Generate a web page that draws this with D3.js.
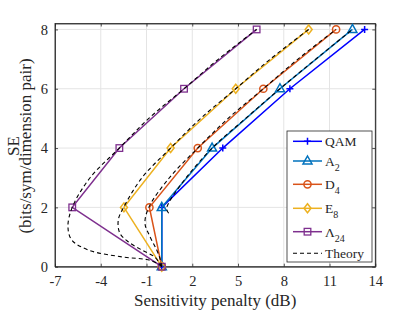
<html lang="en">
  <head>
    <meta charset="UTF-8" />
    <title>SE vs sensitivity penalty</title>
    <script src="https://d3js.org/d3.v7.min.js"></script>
    <style>
      * {
        margin: 0;
        padding: 0;
      }
      body {
        background: white;
      }
      text {
        font-family: "Liberation Serif", "Times New Roman", serif;
        fill: #262626;
      }
    </style>
  </head>
  <body>
    <svg id="chart" width="415" height="312"></svg>
    <script>
      // the values
      const seLevels = [0, 2, 4, 6, 8];
      const qam = [0, 0, 4.0, 8.4, 13.3];
      const a2 = [0, 0, 3.3, 7.75, 12.5];
      const d4 = [0, -0.81, 2.36, 6.66, 11.43];
      const e8 = [0, -2.48, 0.58, 4.85, 9.63];
      const l24 = [0, -5.87, -2.78, 1.46, 6.22];

      // theory curves (dashed), x = penalty, y = SE
      const thA2x = [0.45, 0.32, 0.45, 1.6, 3.3, 5.5, 7.75, 10.1, 12.5];
      const thA2se = [1.8, 1.95, 2.15, 3, 4, 5, 6, 7, 8];
      const thD4x = [0, -0.1, -0.33, -0.77, -1.1, -0.85, 0.5, 2.36, 4.35, 6.66, 8.93, 11.43];
      const thD4se = [0, 0.25, 0.56, 1.01, 1.46, 2, 3, 4, 5, 6, 7, 8];
      const thE8x = [0, -0.45, -1.3, -2.2, -2.75, -2.85, -2.5, -1.3, 0.58, 2.55, 4.85, 7.12, 9.63];
      const thE8se = [0, 0.32, 0.56, 0.84, 1.13, 1.58, 2, 3, 4, 5, 6, 7, 8];
      const thL24x = [0, -0.3, -1.0, -2.6, -4.8, -5.9, -6.15, -5.87, -4.7, -2.78, -0.85, 1.46, 3.72, 6.22];
      const thL24se = [0, 0.12, 0.24, 0.33, 0.56, 0.9, 1.35, 2, 3, 4, 5, 6, 7, 8];

      const xTicks = [-7, -4, -1, 2, 5, 8, 11, 14];
      const yTicks = [0, 2, 4, 6, 8];

      const series = [
        { name: "QAM", sub: "", vals: qam, color: "#0000ff", mark: "plus" },
        { name: "A", sub: "2", vals: a2, color: "#0072bd", mark: "tri" },
        { name: "D", sub: "4", vals: d4, color: "#d95319", mark: "circ" },
        { name: "E", sub: "8", vals: e8, color: "#edb120", mark: "diam" },
        { name: "\u039b", sub: "24", vals: l24, color: "#7e2f8e", mark: "sq" },
      ];
      const theory = [
        [thA2x, thA2se],
        [thD4x, thD4se],
        [thE8x, thE8se],
        [thL24x, thL24se],
      ];

      const svg = d3.select("#chart");
      const pLeft = 55, pRight = 375.3, pTop = 23.5, pBottom = 266.7;

      const x = d3.scaleLinear().domain([-7, 14]).range([pLeft, pRight]);
      const y = d3.scaleLinear().domain([0, 8.2]).range([pBottom, pTop]);

      // grid
      svg
        .selectAll(".gx")
        .data(xTicks)
        .enter()
        .append("line")
        .attr("x1", (d) => x(d))
        .attr("x2", (d) => x(d))
        .attr("y1", pTop)
        .attr("y2", pBottom)
        .attr("stroke", "#e4e4e4");
      svg
        .selectAll(".gy")
        .data(yTicks)
        .enter()
        .append("line")
        .attr("x1", pLeft)
        .attr("x2", pRight)
        .attr("y1", (d) => y(d))
        .attr("y2", (d) => y(d))
        .attr("stroke", "#e4e4e4");

      // axes, ticks inside like matlab (plain hyphen for negatives)
      const fmt = (d) => String(d);
      const xAxis = d3.axisBottom(x).tickValues(xTicks).tickFormat(fmt).tickSizeInner(-3).tickSizeOuter(0).tickPadding(9);
      const yAxis = d3.axisLeft(y).tickValues(yTicks).tickFormat(fmt).tickSizeInner(-3).tickSizeOuter(0).tickPadding(7);
      svg.append("g").attr("transform", `translate(0,${pBottom})`).call(xAxis);
      svg.append("g").attr("transform", `translate(${pLeft},0)`).call(yAxis);
      svg.append("g").attr("transform", `translate(0,${pTop})`)
        .call(d3.axisTop(x).tickValues(xTicks).tickSizeInner(-3).tickSizeOuter(0).tickFormat(""));
      svg.append("g").attr("transform", `translate(${pRight},0)`)
        .call(d3.axisRight(y).tickValues(yTicks).tickSizeInner(-3).tickSizeOuter(0).tickFormat(""));
      svg.selectAll(".domain").attr("stroke", "#262626").attr("stroke-width", 0.8);
      svg.selectAll(".tick line").attr("stroke", "#262626").attr("stroke-width", 0.8);
      svg.selectAll(".tick text")
        .style("font-family", "'Liberation Serif', serif")
        .style("font-size", "14.5px")
        .attr("fill", "#262626");
      // full box: axis domains do not reach the corners otherwise
      svg.append("rect")
        .attr("x", pLeft).attr("y", pTop)
        .attr("width", pRight - pLeft).attr("height", pBottom - pTop)
        .attr("fill", "none").attr("stroke", "#262626").attr("stroke-width", 0.8);

      // labels
      svg.append("text")
        .attr("x", (pLeft + pRight) / 2)
        .attr("y", 306)
        .attr("text-anchor", "middle")
        .style("font-size", "17px")
        .text("Sensitivity penalty (dB)");
      const yl = svg.append("text")
        .attr("transform", "translate(18.5,146) rotate(-90)")
        .attr("text-anchor", "middle")
        .style("font-size", "17px");
      yl.append("tspan").attr("x", 0).attr("dy", 0).text("SE");
      yl.append("tspan").attr("x", 0).attr("dy", 12).text("(bits/sym/dimension pair)");

      // markers
      function drawMark(g, kind, cx, cy, color) {
        if (kind === "plus") {
          g.append("path")
            .attr("d", `M${cx - 3.5},${cy}H${cx + 3.5}M${cx},${cy - 3.5}V${cy + 3.5}`)
            .attr("stroke", color).attr("stroke-width", 1.5);
        } else if (kind === "tri") {
          g.append("path")
            .attr("d", `M${cx},${cy - 5}L${cx + 4.5},${cy + 3}L${cx - 4.5},${cy + 3}Z`)
            .attr("fill", "none").attr("stroke", color).attr("stroke-width", 1.5);
        } else if (kind === "circ") {
          g.append("circle")
            .attr("cx", cx).attr("cy", cy).attr("r", 3.6)
            .attr("fill", "none").attr("stroke", color).attr("stroke-width", 1.5);
        } else if (kind === "diam") {
          g.append("path")
            .attr("d", `M${cx},${cy - 4.5}L${cx + 3.5},${cy}L${cx},${cy + 4.5}L${cx - 3.5},${cy}Z`)
            .attr("fill", "none").attr("stroke", color).attr("stroke-width", 1.5);
        } else {
          g.append("rect")
            .attr("x", cx - 3.3).attr("y", cy - 3.3).attr("width", 6.6).attr("height", 6.6)
            .attr("fill", "none").attr("stroke", color).attr("stroke-width", 1.3);
        }
      }

      const line = d3.line().x((d) => x(d[0])).y((d) => y(d[1]));
      const plot = svg.append("g");

      series.forEach((s) => {
        const pts = s.vals.map((v, i) => [v, seLevels[i]]);
        plot.append("path")
          .attr("d", line(pts))
          .attr("fill", "none")
          .attr("stroke", s.color)
          .attr("stroke-width", 1.5);
        pts.forEach((p) => drawMark(plot, s.mark, x(p[0]), y(p[1]), s.color));
      });

      // theory goes on top
      const curve = d3.line()
        .x((d) => x(d[0]))
        .y((d) => y(d[1]))
        .curve(d3.curveCatmullRom.alpha(0.5));
      theory.forEach((t) => {
        const pts = t[0].map((v, i) => [v, t[1][i]]);
        plot.append("path")
          .attr("d", curve(pts))
          .attr("fill", "none")
          .attr("stroke", "black")
          .attr("stroke-width", 1.1)
          .attr("stroke-dasharray", "4,3");
      });

      // legend
      const lg = svg.append("g");
      lg.append("rect")
        .attr("x", 287).attr("y", 131).attr("width", 85).attr("height", 131)
        .attr("fill", "white").attr("stroke", "#262626").attr("stroke-width", 0.8);
      const rowY = [141.3, 161, 184.3, 208.3, 231.7];
      series.forEach((s, i) => {
        lg.append("line")
          .attr("x1", 293).attr("x2", 322)
          .attr("y1", rowY[i]).attr("y2", rowY[i])
          .attr("stroke", s.color).attr("stroke-width", 1.5);
        drawMark(lg, s.mark, 307.5, rowY[i], s.color);
        const t = lg.append("text")
          .attr("x", 325).attr("y", rowY[i] + 5)
          .style("font-size", "13.5px");
        t.append("tspan").text(s.name);
        if (s.sub) t.append("tspan").attr("dy", 5).style("font-size", "10px").text(s.sub);
      });
      lg.append("line")
        .attr("x1", 293).attr("x2", 322)
        .attr("y1", 253.3).attr("y2", 253.3)
        .attr("stroke", "black").attr("stroke-width", 1.1)
        .attr("stroke-dasharray", "4,3");
      lg.append("text")
        .attr("x", 325).attr("y", 258.3)
        .style("font-size", "13.5px")
        .text("Theory");
    </script>
  </body>
</html>
